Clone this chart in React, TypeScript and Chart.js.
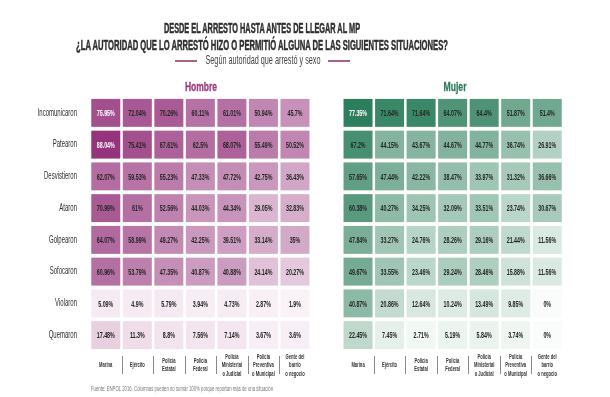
import React, { useEffect, useLayoutEffect, useRef } from 'react';
import { Chart, registerables } from 'chart.js';
Chart.register(...registerables);

const rowLabels = ['Incomunicaron', 'Patearon', 'Desvistieron', 'Ataron', 'Golpearon', 'Sofocaron', 'Violaron', 'Quemaron'];
const colLabels = [
  ['Marina'],
  ['Ejército'],
  ['Policía', 'Estatal'],
  ['Policía', 'Federal'],
  ['Policía', 'Ministerial', 'o Judicial'],
  ['Policía', 'Preventiva', 'o Municipal'],
  ['Gente del', 'barrio', 'o negocio'],
];
const hombreValues = [
  [75.95, 72.04, 70.26, 60.11, 61.01, 50.94, 45.7],
  [88.04, 75.41, 67.61, 62.5, 68.07, 55.49, 50.52],
  [62.07, 59.53, 55.23, 47.33, 47.72, 42.75, 36.43],
  [70.99, 61, 52.56, 44.03, 44.34, 29.05, 32.83],
  [64.07, 58.99, 49.27, 42.25, 39.51, 33.14, 35],
  [60.96, 53.79, 47.35, 40.87, 40.88, 24.14, 20.27],
  [5.09, 4.9, 5.79, 3.94, 4.73, 2.87, 1.9],
  [17.48, 11.3, 8.8, 7.56, 7.14, 3.67, 3.6],
];
const mujerValues = [
  [77.35, 71.64, 71.64, 64.07, 64.4, 51.87, 51.4],
  [67.2, 44.15, 43.67, 44.67, 44.77, 36.74, 26.91],
  [57.65, 47.44, 42.22, 38.47, 33.97, 31.32, 36.66],
  [60.38, 40.27, 34.25, 32.09, 33.51, 23.74, 30.67],
  [47.84, 33.27, 24.76, 28.26, 29.16, 21.44, 11.56],
  [49.67, 33.55, 23.46, 29.24, 28.46, 15.88, 11.56],
  [40.87, 20.86, 12.64, 10.24, 13.49, 9.85, 0],
  [22.45, 7.45, 2.71, 5.19, 5.84, 3.74, 0],
];
const panelTitles = ['Hombre', 'Mujer'];
const titleLine1 = 'DESDE EL ARRESTO HASTA ANTES DE LLEGAR AL MP';
const titleLine2 = '¿LA AUTORIDAD QUE LO ARRESTÓ HIZO O PERMITIÓ ALGUNA DE LAS SIGUIENTES SITUACIONES?';
const subtitle = 'Según autoridad que arrestó y sexo';
const footer = 'Fuente: ENPOL 2016. Columnas pueden no sumar 100% porque reportan más de una situación';

const FONT = '"Liberation Sans", Arial, sans-serif';
const PURPLE = '#9b3c80';
const GREEN = '#2e7c5c';

const mix = (lo: number[], hi: number[], t: number) => {
  const c = Math.max(0, Math.min(1, t));
  const r = lo.map((l, i) => Math.round(l + (hi[i] - l) * c));
  return `rgb(${r[0]},${r[1]},${r[2]})`;
};
const purpleColor = (v: number) => mix([252, 246, 250], [147, 48, 122], v / 90);
const greenColor = (v: number) => mix([249, 252, 250], [37, 122, 87], v / 80);

const NC = colLabels.length; // 7
const NX = NC * 2 + 1; // 15 categories incl. gap
const xKeys = Array.from({ length: NX }, (_, i) => 'c' + i);

function drawText(ctx: CanvasRenderingContext2D, text: string, x: number, y: number, font: string, color: string, sx: number, align: CanvasTextAlign) {
  ctx.save();
  ctx.translate(x, y);
  ctx.scale(sx, 1);
  ctx.font = font;
  ctx.fillStyle = color;
  ctx.textAlign = align;
  ctx.textBaseline = 'middle';
  ctx.fillText(text, 0, 0);
  ctx.restore();
}

const labelPlugin = {
  id: 'heatLabels',
  afterDatasetsDraw(chart: any) {
    const ctx = chart.ctx as CanvasRenderingContext2D;
    const xs = chart.scales.x;
    const ys = chart.scales.y;
    chart.data.datasets.forEach((ds: any, di: number) => {
      const meta = chart.getDatasetMeta(di);
      meta.data.forEach((el: any, i: number) => {
        const v = ds.values[i];
        if (v === null || v === undefined) return;
        const y = (el.y + el.base) / 2;
        drawText(ctx, String(v) + '%', el.x, y + 0.5, `bold 9.5px ${FONT}`, v > 75.5 ? '#ffffff' : '#262626', 0.56, 'center');
      });
    });
    rowLabels.forEach((lab, r) => {
      drawText(ctx, lab, xs.left - 13, ys.getPixelForValue(r + 0.5), `10px ${FONT}`, '#2e2e2e', 0.6, 'right');
    });
    const cy = ys.bottom + 14;
    [0, NC + 1].forEach((start) => {
      colLabels.forEach((lines, c) => {
        const x = xs.getPixelForValue(start + c);
        const lh = 8.5;
        lines.forEach((ln, li) => {
          drawText(ctx, ln, x, cy - ((lines.length - 1) * lh) / 2 + li * lh, `bold 7.5px ${FONT}`, '#333333', 0.55, 'center');
        });
        if (c < NC - 1) {
          const sx = Math.round((xs.getPixelForValue(start + c) + xs.getPixelForValue(start + c + 1)) / 2) + 0.5;
          ctx.save();
          ctx.strokeStyle = '#8a8a8a';
          ctx.lineWidth = 1;
          ctx.beginPath();
          ctx.moveTo(sx, cy - 9);
          ctx.lineTo(sx, cy + 9);
          ctx.stroke();
          ctx.restore();
        }
      });
    });
  },
};

function FitText(props: { text: string; x: number; y: number; width: number; font: string; color: string; anchor?: 'center' | 'left'; stroke?: number }) {
  const { text, x, y, width, font, color, anchor = 'center', stroke = 0 } = props;
  const ref = useRef<HTMLSpanElement>(null);
  useLayoutEffect(() => {
    const el = ref.current;
    if (!el) return;
    el.style.transform = 'none';
    const w = el.offsetWidth;
    const s = w > 0 ? width / w : 1;
    el.style.transform = anchor === 'center' ? `translate(-50%,-50%) scaleX(${s})` : `translate(0,-50%) scaleX(${s})`;
  }, [text, width, font, anchor]);
  return (
    <span
      ref={ref}
      style={{
        position: 'absolute',
        left: x,
        top: y,
        whiteSpace: 'nowrap',
        font,
        color,
        lineHeight: 1,
        transformOrigin: anchor === 'center' ? 'center center' : 'left center',
        WebkitTextStroke: stroke ? `${stroke}px ${color}` : undefined,
      } as any}
    >
      {text}
    </span>
  );
}

export default function App() {
  const canvasRef = useRef<HTMLCanvasElement>(null);
  useEffect(() => {
    const canvas = canvasRef.current;
    if (!canvas) return;
    const datasets = rowLabels.map((_, r) => {
      const data: any[] = [];
      const values: any[] = [];
      const colors: string[] = [];
      for (let i = 0; i < NX; i++) {
        if (i < NC) {
          data.push([r + 0.06, r + 0.94]);
          values.push(hombreValues[r][i]);
          colors.push(purpleColor(hombreValues[r][i]));
        } else if (i > NC) {
          const c = i - NC - 1;
          data.push([r + 0.06, r + 0.94]);
          values.push(mujerValues[r][c]);
          colors.push(greenColor(mujerValues[r][c]));
        } else {
          data.push(null);
          values.push(null);
          colors.push('rgba(0,0,0,0)');
        }
      }
      return {
        label: rowLabels[r],
        data,
        values,
        backgroundColor: colors,
        borderWidth: 0,
        grouped: false,
        barPercentage: 0.92,
        categoryPercentage: 1,
      } as any;
    });
    const chart = new Chart(canvas, {
      type: 'bar',
      data: { labels: xKeys, datasets },
      options: {
        animation: false,
        responsive: false,
        devicePixelRatio: 1,
        layout: { padding: { left: 90, top: 97, right: 47, bottom: 46 } },
        plugins: { legend: { display: false }, tooltip: { enabled: false }, title: { display: false } },
        scales: {
          x: { type: 'category', display: false },
          y: { type: 'linear', min: 0, max: rowLabels.length, reverse: true, display: false },
        },
      },
      plugins: [labelPlugin],
    });
    return () => chart.destroy();
  }, []);

  return (
    <div style={{ position: 'fixed', left: 0, top: 0, width: 610, height: 397, background: '#ffffff', overflow: 'hidden' }}>
      <canvas ref={canvasRef} width={610} height={397} style={{ position: 'absolute', left: 0, top: 0, width: 610, height: 397 }} />
      <FitText text={titleLine1} x={262} y={28} width={196} font={`bold 14px ${FONT}`} color="#2f2f2f" stroke={0.5} />
      <FitText text={titleLine2} x={262} y={45} width={372} font={`bold 14px ${FONT}`} color="#2f2f2f" stroke={0.5} />
      <FitText text={subtitle} x={262.5} y={60} width={115} font={`12px ${FONT}`} color="#444444" />
      <div style={{ position: 'absolute', left: 175, top: 60, width: 22, height: 2, background: '#a8608c' }} />
      <div style={{ position: 'absolute', left: 328, top: 60, width: 22, height: 2, background: '#a8608c' }} />
      <FitText text={panelTitles[0]} x={201} y={87} width={32} font={`bold 12px ${FONT}`} color={PURPLE} stroke={0.3} />
      <FitText text={panelTitles[1]} x={455} y={87} width={23} font={`bold 12px ${FONT}`} color={GREEN} stroke={0.3} />
      <FitText text={footer} x={91} y={388} width={182} font={`7px ${FONT}`} color="#777777" anchor="left" />
    </div>
  );
}
